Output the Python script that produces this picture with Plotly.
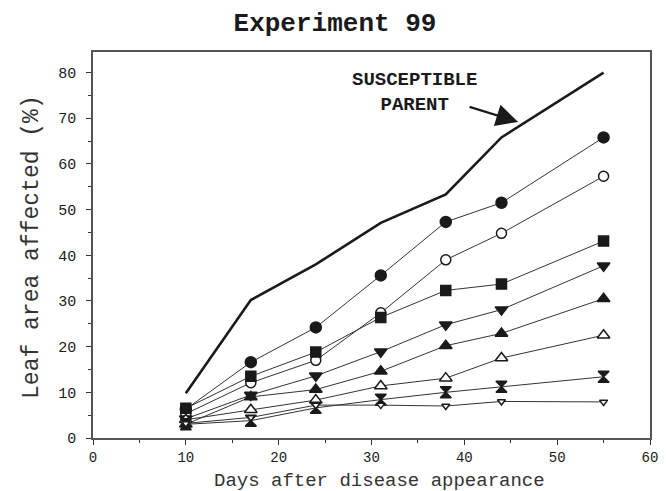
import plotly.graph_objects as go

# Days after disease appearance
days = [10, 17, 24, 31, 38, 44, 55]

# Leaf area affected (%) for each line
susceptible_parent = [9.8, 30.2, 38.0, 47.1, 53.3, 65.8, 80.0]
filled_circle = [6.3, 16.6, 24.2, 35.6, 47.3, 51.5, 65.8]
open_circle = [5.3, 12.1, 17.0, 27.4, 39.0, 44.8, 57.3]
filled_square = [6.5, 13.5, 18.8, 26.4, 32.3, 33.7, 43.1]
filled_down_tri = [4.2, 9.4, 13.6, 18.9, 24.8, 28.1, 37.7]
filled_up_tri = [3.0, 9.0, 10.6, 14.6, 20.2, 22.9, 30.5]
open_up_tri = [4.0, 6.2, 8.3, 11.4, 13.1, 17.5, 22.5]
hourglass = [3.0, 3.8, 6.6, 8.4, 10.0, 11.2, 13.4]
small_open = [3.2, 4.5, 7.2, 7.2, 7.0, 8.0, 7.9]

x_ticks = [0, 10, 20, 30, 40, 50, 60]
y_ticks = [0, 10, 20, 30, 40, 50, 60, 70, 80]

MONO = "Liberation Mono, Courier New, monospace"
INK = "#1a1a1a"

fig = go.Figure()

fig.add_trace(go.Scatter(
    x=days, y=susceptible_parent, mode="lines",
    line=dict(color=INK, width=2.6), showlegend=False,
))

# (values, symbol, size, fill)
series = [
    (filled_circle, "circle", 11, INK),
    (open_circle, "circle", 10, "white"),
    (filled_square, "square", 10, INK),
    (filled_down_tri, "triangle-down", 11, INK),
    (filled_up_tri, "triangle-up", 11, INK),
    (open_up_tri, "triangle-up", 11, "white"),
    (hourglass, "hourglass", 11, INK),
    (small_open, "triangle-down", 7, "white"),
]
for values, symbol, size, fill in series:
    fig.add_trace(go.Scatter(
        x=days, y=values, mode="lines+markers",
        line=dict(color="#333333", width=1),
        marker=dict(symbol=symbol, size=size, color=fill,
                    line=dict(color=INK, width=1.5)),
        showlegend=False,
    ))

fig.add_annotation(
    x=34.6, y=75.6, xref="x", yref="y", showarrow=False,
    text="<b>SUSCEPTIBLE<br>PARENT</b>",
    font=dict(family=MONO, size=19, color=INK), align="center",
)
fig.add_annotation(
    x=45.8, y=69.2, xref="x", yref="y",
    ax=40.4, ay=72.6, axref="x", ayref="y",
    text="", showarrow=True, arrowhead=2, arrowsize=2.0, arrowwidth=2.2,
    arrowcolor=INK,
)

# Axis titles placed as paper-anchored text
fig.add_annotation(
    x=0.515, y=-0.111, xref="paper", yref="paper", showarrow=False,
    text="Days after disease appearance", xanchor="center", yanchor="middle",
    font=dict(family=MONO, size=19, color="#333333"),
)
fig.add_annotation(
    x=-0.1095, y=0.495, xref="paper", yref="paper", showarrow=False,
    text="Leaf area affected (%)", textangle=-90, xanchor="center", yanchor="middle",
    font=dict(family=MONO, size=23, color="#333333"),
)

axis_common = dict(
    showgrid=False, zeroline=False, showline=True, mirror=True,
    linecolor="#555555", linewidth=1.5,
    ticks="outside", ticklen=5, tickcolor="#333333", tickwidth=1.2,
    automargin=False,
)

fig.update_xaxes(
    range=[0, 60], tickvals=x_ticks, ticktext=[str(v) for v in x_ticks],
    minor=dict(tickvals=[5, 15, 25, 35, 45, 55], ticks="outside", ticklen=3,
               tickcolor="#333333"),
    tickfont=dict(family=MONO, size=14, color=INK),
    ticklabelstandoff=0,
    **axis_common,
)
fig.update_yaxes(
    range=[0, 84.5], tickvals=y_ticks, ticktext=[str(v) for v in y_ticks],
    minor=dict(tickvals=[5, 15, 25, 35, 45, 55, 65, 75], ticks="outside", ticklen=3,
               tickcolor="#333333"),
    tickfont=dict(family=MONO, size=15, color=INK),
    ticklabelstandoff=7,
    **axis_common,
)

fig.update_layout(
    width=666, height=491,
    margin=dict(l=93, r=16, t=52, b=53),
    paper_bgcolor="white", plot_bgcolor="white",
    title=dict(text="<b>Experiment 99</b>", x=0.503, xanchor="center", y=0.955,
               yanchor="middle", font=dict(family=MONO, size=26, color=INK)),
)

fig.write_html("out.html")
